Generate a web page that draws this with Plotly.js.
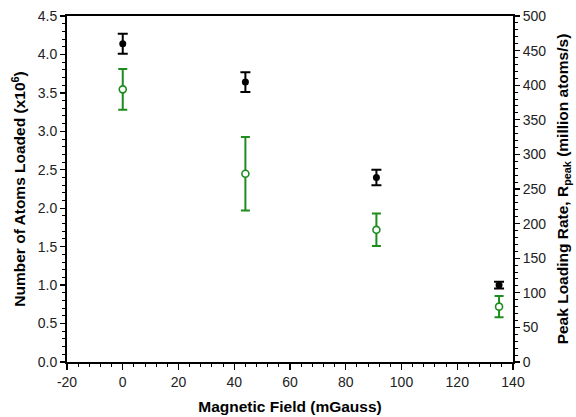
<!DOCTYPE html>
<html>
<head>
<meta charset="utf-8">
<script src="https://cdn.plot.ly/plotly-3.0.1.min.js"></script>
<style>html,body{margin:0;padding:0;background:#fff}#chart{width:576px;height:417px}</style>
</head>
<body>
<div id="chart"></div>
<script>
// Data
const field = [0, 44, 91, 135];                 // mGauss
const atoms = [4.14, 3.64, 2.40, 1.00];         // x10^6
const atomsErr = [0.13, 0.13, 0.10, 0.045];
const rate = [394, 272, 191, 80];               // million atoms/s
const rateErr = [29.5, 53, 23.5, 15.5];
const xTickVals = [-20, 0, 20, 40, 60, 80, 100, 120, 140];
const xTickText = ['-20', '0', '20', '40', '60', '80', '100', '120', '140'];

const font = {family: 'Arial, "Liberation Sans", sans-serif', size: 14, color: '#222'};
const titleFont = {family: 'Arial, "Liberation Sans", sans-serif', size: 15.5, color: '#000', weight: 'bold'};
const green = '#1e8c1e';

const traces = [
  {
    x: field, y: atoms, type: 'scatter', mode: 'markers', xaxis: 'x', yaxis: 'y',
    marker: {color: '#000', size: 7, symbol: 'circle'},
    error_y: {type: 'data', array: atomsErr, visible: true, color: '#000', thickness: 2, width: 5},
    showlegend: false, cliponaxis: false
  },
  {
    x: field, y: rate, type: 'scatter', mode: 'markers', xaxis: 'x', yaxis: 'y2',
    marker: {color: '#fff', size: 7, symbol: 'circle', line: {color: green, width: 1.6}},
    error_y: {type: 'data', array: rateErr, visible: true, color: green, thickness: 2, width: 4.5},
    showlegend: false, cliponaxis: false
  }
];

const common = {showgrid: false, zeroline: false, linecolor: '#000', linewidth: 2, tickcolor: '#000', tickwidth: 1.3};

const layout = {
  width: 576, height: 417,
  margin: {l: 67, r: 63, t: 16, b: 55},
  paper_bgcolor: '#fff', plot_bgcolor: '#fff',
  font: font,
  xaxis: Object.assign({}, common, {
    range: [-20, 140], tickvals: xTickVals, ticktext: xTickText,
    ticks: 'outside', ticklen: 6, showline: true, mirror: true,
    minor: {dtick: 4, tick0: 0, ticks: 'outside', ticklen: 3, tickcolor: '#000', tickwidth: 1},
    tickfont: font,
    title: {text: 'Magnetic Field (mGauss)', font: titleFont, standoff: 12}
  }),
  xaxis2: Object.assign({}, common, {
    range: [-20, 140], tickvals: xTickVals,
    overlaying: 'x', anchor: 'y', side: 'bottom', ticks: 'inside', ticklen: 5,
    showticklabels: false, showline: false
  }),
  yaxis: Object.assign({}, common, {
    range: [0, 4.5], dtick: 0.5, tickformat: '.1f',
    ticks: 'outside', ticklen: 5, showline: true,
    minor: {dtick: 0.1, ticks: 'outside', ticklen: 3, tickcolor: '#000', tickwidth: 1},
    tickfont: font,
    title: {text: 'Number of Atoms Loaded (x10<sup>6</sup>)', font: titleFont, standoff: 8}
  }),
  yaxis3: Object.assign({}, common, {
    range: [0, 4.5], dtick: 0.5, overlaying: 'y', anchor: 'x', side: 'left',
    ticks: 'inside', ticklen: 5, showticklabels: false, showline: false
  }),
  yaxis2: Object.assign({}, common, {
    range: [0, 500], dtick: 50, overlaying: 'y', side: 'right', anchor: 'x',
    ticks: 'outside', ticklen: 5, showline: true,
    minor: {dtick: 10, ticks: 'outside', ticklen: 3, tickcolor: '#000', tickwidth: 1},
    tickfont: font,
    title: {text: 'Peak Loading Rate, R<sub>peak</sub> (million atoms/s)', font: titleFont, standoff: 12}
  }),
  yaxis4: Object.assign({}, common, {
    range: [0, 500], dtick: 50, overlaying: 'y', side: 'right', anchor: 'x',
    ticks: 'inside', ticklen: 5, showticklabels: false, showline: false
  })
};

Plotly.newPlot('chart', traces, layout, {displayModeBar: false, staticPlot: true});
</script>
</body>
</html>
